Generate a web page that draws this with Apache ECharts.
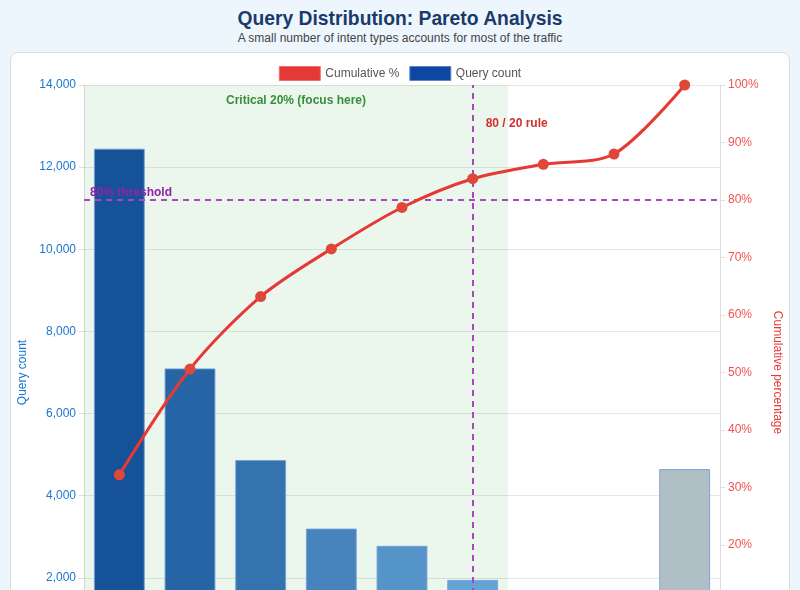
<!DOCTYPE html>
<html>
<head>
<meta charset="utf-8">
<script src="https://cdn.jsdelivr.net/npm/echarts@6/dist/echarts.min.js"></script>
<style>
  html, body { margin: 0; padding: 0; background: #eef6fd; font-family: "Liberation Sans", Arial, sans-serif; }
  .page { padding: 0 10px; }
  .head { height: 52px; text-align: center; }
  .head h1 { margin: 0; padding-top: 7px; font-size: 19.3px; line-height: 23px; color: #1a3a6b; font-weight: bold; }
  .head p { margin: 0; font-size: 12px; line-height: 16px; color: #444; }
  .card { background: #fff; border: 1px solid #d3dde8; border-radius: 8px; width: 778px; }
  #chart { width: 778px; height: 700px; }
</style>
</head>
<body>
<div class="page">
  <div class="head">
    <h1>Query Distribution: Pareto Analysis</h1>
    <p>A small number of intent types accounts for most of the traffic</p>
  </div>
  <div class="card"><div id="chart"></div></div>
</div>
<script>
const categories = ['Account access', 'Billing', 'Order status', 'Returns', 'Shipping', 'Product info', 'Promotions', 'Feedback', 'Other']
const queryCounts = [12450, 7100, 4870, 3200, 2780, 1950, 950, 700, 4650]
const cumulativePct = [32.2, 50.6, 63.2, 71.5, 78.7, 83.7, 86.2, 88.0, 100]
const barColors = ['#155297', '#2564a5', '#3473ae', '#4784bd', '#5594c9', '#64a4d4', '#73b2dd', '#83c0e6', '#b0bec5']

const chart = echarts.init(document.getElementById('chart'))

chart.setOption({
  textStyle: { fontFamily: 'Liberation Sans, Arial, sans-serif' },
  animation: false,
  legend: {
    data: [
      { name: 'Cumulative %', icon: 'rect', itemStyle: { color: '#e53935', borderColor: '#ef6f6c', borderWidth: 1 } },
      { name: 'Query count', icon: 'rect', itemStyle: { color: '#0d47a1', borderColor: '#5a86c8', borderWidth: 1 } },
    ],
    top: 8,
    itemWidth: 41,
    itemHeight: 14,
    itemGap: 10,
    textStyle: { color: '#555', fontSize: 12 },
  },
  grid: { left: 73, right: 69, top: 32, height: 575, outerBoundsMode: 'none' },
  xAxis: [
    {
      type: 'category',
      data: categories,
      axisLine: { lineStyle: { color: '#ccc' } },
      axisTick: { alignWithLabel: true },
      axisLabel: { color: '#555', rotate: 30 },
    },
    { type: 'value', min: 0, max: 9, show: false },
  ],
  yAxis: [
    {
      type: 'value',
      name: 'Query count',
      nameLocation: 'middle',
      nameGap: 54,
      nameTextStyle: { color: '#1976d2', fontSize: 12 },
      min: 0,
      max: 14000,
      interval: 2000,
      axisLine: { show: true, lineStyle: { color: '#ddd' } },
      axisTick: { show: true, lineStyle: { color: '#ddd' } },
      axisLabel: { color: '#1976d2', fontSize: 12, formatter: (v) => v.toLocaleString('en-US') },
      splitLine: { lineStyle: { color: '#e6e6e6' } },
    },
    {
      type: 'value',
      name: 'Cumulative percentage',
      nameLocation: 'middle',
      nameGap: 51,
      nameRotate: -90,
      nameTextStyle: { color: '#e53935', fontSize: 12 },
      min: 0,
      max: 100,
      interval: 10,
      axisLine: { show: true, lineStyle: { color: '#ddd' } },
      axisTick: { show: true, lineStyle: { color: '#ddd' } },
      axisLabel: { color: '#ef5350', fontSize: 12, formatter: '{value}%' },
      splitLine: { show: false },
    },
  ],
  series: [
    {
      name: 'focus',
      type: 'line',
      xAxisIndex: 1,
      yAxisIndex: 0,
      data: [],
      silent: true,
      z: 0,
      markArea: {
        silent: true,
        itemStyle: { color: 'rgba(76,175,80,0.11)' },
        label: {
          position: 'insideTop',
          distance: 10,
          color: '#388e3c',
          fontWeight: 'bold',
          fontSize: 12,
        },
        data: [[{ xAxis: 0, name: 'Critical 20% (focus here)' }, { xAxis: 6 }]],
      },
    },
    {
      name: 'Query count',
      type: 'bar',
      barWidth: '72%',
      itemStyle: { color: '#0d47a1' },
      data: queryCounts.map((v, i) => ({
        value: v,
        itemStyle: { color: barColors[i], borderColor: 'rgba(120,160,220,0.9)', borderWidth: 1 },
      })),
    },
    {
      name: 'Cumulative %',
      type: 'line',
      yAxisIndex: 1,
      smooth: 0.3,
      symbol: 'circle',
      symbolSize: 11,
      z: 5,
      lineStyle: { color: '#e53935', width: 3 },
      itemStyle: { color: '#e0473b' },
      data: cumulativePct,
      markLine: {
        silent: true,
        symbol: 'none',
        lineStyle: { color: '#ab47bc', type: [6, 5], width: 2 },
        data: [
          {
            yAxis: 80,
            label: {
              formatter: '80% threshold',
              position: 'insideStartTop',
              distance: [6, 1],
              color: '#8e24aa',
              fontWeight: 'bold',
              fontSize: 12,
            },
          },
          {
            xAxis: 5,
            label: {
              formatter: '80 / 20 rule',
              position: 'end',
              offset: [44, 50],
              color: '#d32f2f',
              fontWeight: 'bold',
              fontSize: 12,
            },
          },
        ],
      },
    },
  ],
})
</script>
</body>
</html>
